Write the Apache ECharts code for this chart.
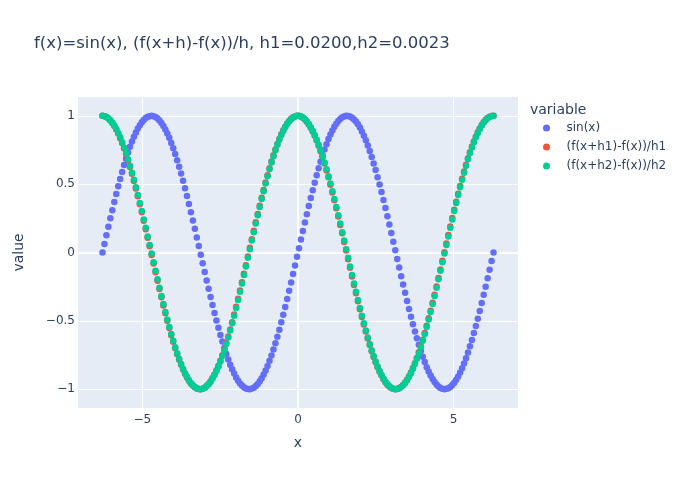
<!DOCTYPE html>
<html>
<head>
<meta charset="utf-8">
<script src="https://cdn.jsdelivr.net/npm/echarts@6/dist/echarts.min.js"></script>
<style>
  html, body { margin: 0; padding: 0; background: #fff; }
  #chart { width: 680px; height: 486px; }
</style>
</head>
<body>
<div id="chart"></div>
<script>
const chartTitle = "f(x)=sin(x), (f(x+h)-f(x))/h, h1=0.0200,h2=0.0023";
const seriesNames = ["sin(x)", "(f(x+h1)-f(x))/h1", "(f(x+h2)-f(x))/h2"];
const xTicks = [-5, 0, 5];
const yTicks = [-1, -0.5, 0, 0.5, 1];

const xs = [
  -6.283, -6.220, -6.157, -6.094, -6.031, -5.967, -5.904, -5.841, -5.778, -5.715,
  -5.652, -5.589, -5.525, -5.462, -5.399, -5.336, -5.273, -5.210, -5.147, -5.083,
  -5.020, -4.957, -4.894, -4.831, -4.768, -4.705, -4.641, -4.578, -4.515, -4.452,
  -4.389, -4.326, -4.262, -4.199, -4.136, -4.073, -4.010, -3.947, -3.884, -3.820,
  -3.757, -3.694, -3.631, -3.568, -3.505, -3.442, -3.378, -3.315, -3.252, -3.189,
  -3.126, -3.063, -2.999, -2.936, -2.873, -2.810, -2.747, -2.684, -2.621, -2.557,
  -2.494, -2.431, -2.368, -2.305, -2.242, -2.179, -2.115, -2.052, -1.989, -1.926,
  -1.863, -1.800, -1.737, -1.673, -1.610, -1.547, -1.484, -1.421, -1.358, -1.294,
  -1.231, -1.168, -1.105, -1.042, -0.979, -0.916, -0.852, -0.789, -0.726, -0.663,
  -0.600, -0.537, -0.474, -0.410, -0.347, -0.284, -0.221, -0.158, -0.095, -0.032,
  0.032, 0.095, 0.158, 0.221, 0.284, 0.347, 0.410, 0.474, 0.537, 0.600,
  0.663, 0.726, 0.789, 0.852, 0.916, 0.979, 1.042, 1.105, 1.168, 1.231,
  1.294, 1.358, 1.421, 1.484, 1.547, 1.610, 1.673, 1.737, 1.800, 1.863,
  1.926, 1.989, 2.052, 2.115, 2.179, 2.242, 2.305, 2.368, 2.431, 2.494,
  2.557, 2.621, 2.684, 2.747, 2.810, 2.873, 2.936, 2.999, 3.063, 3.126,
  3.189, 3.252, 3.315, 3.378, 3.442, 3.505, 3.568, 3.631, 3.694, 3.757,
  3.820, 3.884, 3.947, 4.010, 4.073, 4.136, 4.199, 4.262, 4.326, 4.389,
  4.452, 4.515, 4.578, 4.641, 4.705, 4.768, 4.831, 4.894, 4.957, 5.020,
  5.083, 5.147, 5.210, 5.273, 5.336, 5.399, 5.462, 5.525, 5.589, 5.652,
  5.715, 5.778, 5.841, 5.904, 5.967, 6.031, 6.094, 6.157, 6.220, 6.283
];

const sinY = [
  0, 0.063, 0.126, 0.188, 0.250, 0.310, 0.370, 0.428, 0.484, 0.538,
  0.590, 0.640, 0.687, 0.732, 0.773, 0.812, 0.847, 0.879, 0.907, 0.932,
  0.953, 0.970, 0.984, 0.993, 0.998, 1.000, 0.997, 0.991, 0.981, 0.966,
  0.948, 0.926, 0.900, 0.871, 0.839, 0.802, 0.763, 0.721, 0.676, 0.628,
  0.578, 0.525, 0.470, 0.413, 0.355, 0.295, 0.235, 0.173, 0.110, 0.047,
  -0.016, -0.079, -0.142, -0.204, -0.265, -0.325, -0.385, -0.442, -0.498, -0.551,
  -0.603, -0.652, -0.699, -0.742, -0.783, -0.821, -0.855, -0.886, -0.914, -0.938,
  -0.958, -0.974, -0.986, -0.995, -0.999, -1.000, -0.996, -0.989, -0.977, -0.962,
  -0.943, -0.920, -0.893, -0.863, -0.830, -0.793, -0.753, -0.710, -0.664, -0.616,
  -0.565, -0.511, -0.456, -0.399, -0.340, -0.280, -0.219, -0.157, -0.095, -0.032,
  0.032, 0.095, 0.157, 0.219, 0.280, 0.340, 0.399, 0.456, 0.511, 0.565,
  0.616, 0.664, 0.710, 0.753, 0.793, 0.830, 0.863, 0.893, 0.920, 0.943,
  0.962, 0.977, 0.989, 0.996, 1.000, 0.999, 0.995, 0.986, 0.974, 0.958,
  0.938, 0.914, 0.886, 0.855, 0.821, 0.783, 0.742, 0.699, 0.652, 0.603,
  0.551, 0.498, 0.442, 0.385, 0.325, 0.265, 0.204, 0.142, 0.079, 0.016,
  -0.047, -0.110, -0.173, -0.235, -0.295, -0.355, -0.413, -0.470, -0.525, -0.578,
  -0.628, -0.676, -0.721, -0.763, -0.802, -0.839, -0.871, -0.900, -0.926, -0.948,
  -0.966, -0.981, -0.991, -0.997, -1.000, -0.998, -0.993, -0.984, -0.970, -0.953,
  -0.932, -0.907, -0.879, -0.847, -0.812, -0.773, -0.732, -0.687, -0.640, -0.590,
  -0.538, -0.484, -0.428, -0.370, -0.310, -0.250, -0.188, -0.126, -0.063, 0
];

// h1 = 0.0200
const diffH1 = [
  1.000, 0.997, 0.991, 0.980, 0.966, 0.947, 0.925, 0.900, 0.870, 0.837,
  0.801, 0.762, 0.720, 0.674, 0.626, 0.576, 0.523, 0.468, 0.412, 0.353,
  0.294, 0.233, 0.171, 0.108, 0.045, -0.018, -0.081, -0.144, -0.206, -0.267,
  -0.328, -0.387, -0.444, -0.500, -0.553, -0.605, -0.654, -0.700, -0.744, -0.785,
  -0.822, -0.856, -0.887, -0.915, -0.938, -0.958, -0.974, -0.987, -0.995, -0.999,
  -1.000, -0.996, -0.989, -0.977, -0.962, -0.942, -0.919, -0.893, -0.862, -0.829,
  -0.792, -0.752, -0.708, -0.663, -0.614, -0.563, -0.510, -0.454, -0.397, -0.338,
  -0.278, -0.217, -0.155, -0.093, -0.029, 0.034, 0.097, 0.159, 0.221, 0.282,
  0.342, 0.401, 0.458, 0.513, 0.566, 0.617, 0.666, 0.711, 0.754, 0.794,
  0.831, 0.865, 0.895, 0.921, 0.944, 0.963, 0.978, 0.989, 0.996, 1.000,
  0.999, 0.995, 0.986, 0.973, 0.957, 0.937, 0.913, 0.885, 0.854, 0.820,
  0.782, 0.741, 0.697, 0.651, 0.601, 0.550, 0.496, 0.440, 0.382, 0.324,
  0.263, 0.202, 0.140, 0.077, 0.014, -0.049, -0.112, -0.175, -0.237, -0.298,
  -0.357, -0.415, -0.472, -0.527, -0.579, -0.630, -0.677, -0.722, -0.765, -0.804,
  -0.840, -0.872, -0.901, -0.927, -0.949, -0.967, -0.981, -0.991, -0.998, -1.000,
  -0.998, -0.993, -0.983, -0.970, -0.952, -0.931, -0.906, -0.878, -0.846, -0.811,
  -0.772, -0.730, -0.686, -0.638, -0.589, -0.536, -0.482, -0.426, -0.368, -0.309,
  -0.248, -0.186, -0.124, -0.061, 0.002, 0.065, 0.128, 0.190, 0.252, 0.312,
  0.372, 0.430, 0.486, 0.540, 0.592, 0.642, 0.689, 0.733, 0.775, 0.813,
  0.848, 0.880, 0.908, 0.933, 0.954, 0.971, 0.984, 0.993, 0.999, 1.000
];

// h2 = 0.0023
const diffH2 = [
  1.000, 0.998, 0.992, 0.982, 0.968, 0.951, 0.929, 0.904, 0.875, 0.843,
  0.807, 0.768, 0.726, 0.682, 0.634, 0.584, 0.532, 0.477, 0.421, 0.363,
  0.303, 0.242, 0.181, 0.118, 0.055, -0.008, -0.071, -0.134, -0.196, -0.258,
  -0.318, -0.377, -0.435, -0.491, -0.545, -0.597, -0.646, -0.693, -0.737, -0.778,
  -0.816, -0.851, -0.883, -0.910, -0.935, -0.955, -0.972, -0.985, -0.994, -0.999,
  -1.000, -0.997, -0.990, -0.979, -0.964, -0.946, -0.923, -0.897, -0.867, -0.834,
  -0.798, -0.758, -0.715, -0.670, -0.622, -0.571, -0.518, -0.463, -0.406, -0.348,
  -0.288, -0.227, -0.165, -0.102, -0.039, 0.024, 0.087, 0.149, 0.212, 0.273,
  0.333, 0.392, 0.449, 0.505, 0.558, 0.609, 0.658, 0.704, 0.748, 0.788,
  0.825, 0.859, 0.890, 0.917, 0.940, 0.960, 0.976, 0.988, 0.996, 1.000,
  1.000, 0.996, 0.988, 0.976, 0.960, 0.940, 0.917, 0.890, 0.859, 0.825,
  0.788, 0.748, 0.704, 0.658, 0.609, 0.558, 0.505, 0.449, 0.392, 0.333,
  0.273, 0.212, 0.149, 0.087, 0.024, -0.039, -0.102, -0.165, -0.227, -0.288,
  -0.348, -0.406, -0.463, -0.518, -0.571, -0.622, -0.670, -0.715, -0.758, -0.798,
  -0.834, -0.867, -0.897, -0.923, -0.946, -0.964, -0.979, -0.990, -0.997, -1.000,
  -0.999, -0.994, -0.985, -0.972, -0.955, -0.935, -0.910, -0.883, -0.851, -0.816,
  -0.778, -0.737, -0.693, -0.646, -0.597, -0.545, -0.491, -0.435, -0.377, -0.318,
  -0.258, -0.196, -0.134, -0.071, -0.008, 0.055, 0.118, 0.181, 0.242, 0.303,
  0.363, 0.421, 0.477, 0.532, 0.584, 0.634, 0.682, 0.726, 0.768, 0.807,
  0.843, 0.875, 0.904, 0.929, 0.951, 0.968, 0.982, 0.992, 0.998, 1.000
];

const colors = ["#636efa", "#EF553B", "#00cc96"];
const fontFamily = '"DejaVu Sans", verdana, arial, sans-serif';
const textColor = "#2a3f5f";
const minus = v => String(v).replace("-", "\u2212");
const pairs = ys => xs.map((x, i) => [x, ys[i]]);

// white grid lines like plotly (zero lines thicker)
const gridLines = xTicks.map(v => ({ xAxis: v, lineStyle: { width: v === 0 ? 2 : 1 } }))
    .concat(yTicks.map(v => ({ yAxis: v, lineStyle: { width: v === 0 ? 2 : 1 } })));

const chart = echarts.init(document.getElementById("chart"));
const option = {
    animation: false,
    backgroundColor: "#fff",
    textStyle: { fontFamily: fontFamily, color: textColor },
    title: [{
        text: chartTitle,
        left: 34,
        top: 35,
        padding: 0,
        textStyle: { fontFamily: fontFamily, fontSize: 16.5, fontWeight: "normal", color: textColor }
    }, {
        text: "variable",
        left: 530,
        top: 103,
        padding: 0,
        textStyle: { fontFamily: fontFamily, fontSize: 14, fontWeight: "normal", color: textColor }
    }],
    legend: {
        orient: "vertical",
        left: 543,
        top: 121,
        padding: 0,
        itemWidth: 30,
        itemHeight: 7,
        itemGap: 5,
        icon: "circle",
        data: seriesNames,
        textStyle: { fontFamily: fontFamily, fontSize: 12, color: textColor, lineHeight: 14 }
    },
    grid: {
        left: 78,
        top: 97,
        width: 440,
        height: 311,
        show: true,
        backgroundColor: "#E5ECF6",
        borderWidth: 0
    },
    xAxis: {
        type: "value",
        min: -7.07,
        max: 7.07,
        name: "x",
        nameLocation: "middle",
        nameGap: 28,
        nameTextStyle: { fontFamily: fontFamily, fontSize: 14, color: textColor },
        axisLine: { show: false },
        axisTick: { show: false },
        splitLine: { show: false },
        axisLabel: {
            customValues: xTicks,
            margin: 6,
            fontFamily: fontFamily,
            fontSize: 12,
            color: textColor,
            formatter: minus
        }
    },
    yAxis: {
        type: "value",
        min: -1.138,
        max: 1.138,
        name: "value",
        nameLocation: "middle",
        nameGap: 52,
        nameTextStyle: { fontFamily: fontFamily, fontSize: 14, color: textColor },
        axisLine: { show: false },
        axisTick: { show: false },
        splitLine: { show: false },
        axisLabel: {
            customValues: yTicks,
            margin: 3,
            fontFamily: fontFamily,
            fontSize: 12,
            color: textColor,
            formatter: minus
        }
    },
    series: [
        { name: seriesNames[0], data: pairs(sinY), color: colors[0] },
        { name: seriesNames[1], data: pairs(diffH1), color: colors[1] },
        { name: seriesNames[2], data: pairs(diffH2), color: colors[2] }
    ].map((s, i) => Object.assign({
        type: "scatter",
        symbol: "circle",
        symbolSize: 6.5,
        z: 2,
        itemStyle: { color: s.color, opacity: 1 },
        emphasis: { disabled: true },
        markLine: i === 0 ? {
            silent: true,
            z: 1,
            symbol: ["none", "none"],
            label: { show: false },
            lineStyle: { color: "#fff", type: "solid", width: 1 },
            data: gridLines
        } : undefined
    }, s))
};
chart.setOption(option);
</script>
</body>
</html>
